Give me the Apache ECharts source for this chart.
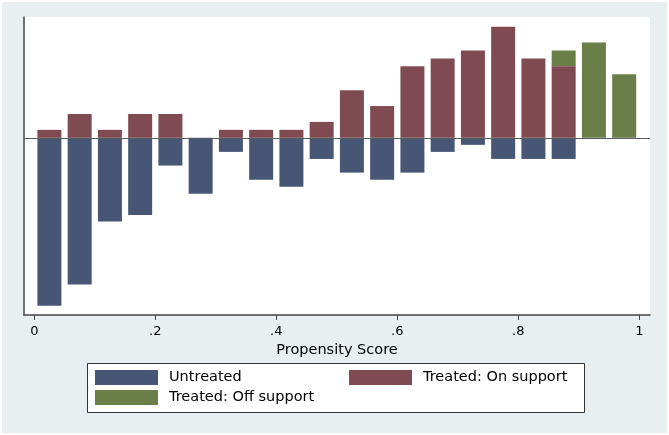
<!DOCTYPE html>
<html>
<head>
<meta charset="utf-8">
<script src="https://cdn.jsdelivr.net/npm/echarts@6/dist/echarts.min.js"></script>
<style>
html,body{margin:0;padding:0;background:#E9EFF1;}
#chart{width:669px;height:435px;}
</style>
</head>
<body>
<div id="chart"></div>
<script>
// Bin centres of the propensity-score histogram (bins of width 0.05)
var binCenters = [0.025, 0.075, 0.125, 0.175, 0.225, 0.275, 0.325, 0.375, 0.425, 0.475,
                  0.525, 0.575, 0.625, 0.675, 0.725, 0.775, 0.825, 0.875, 0.925, 0.975];
// Densities (untreated mirrored below zero)
var untreated = [-3.81, -3.33, -1.90, -1.75, -0.63, -1.27, -0.32, -0.95, -1.11, -0.48,
                 -0.79, -0.95, -0.79, -0.32, -0.16, -0.48, -0.48, -0.48, 0, 0];
var treatedOnSupport = [0.18, 0.54, 0.18, 0.54, 0.54, 0, 0.18, 0.18, 0.18, 0.36,
                        1.08, 0.72, 1.62, 1.80, 1.98, 2.52, 1.80, 1.62, 0, 0];
var treatedOffSupport = [0, 0, 0, 0, 0, 0, 0, 0, 0, 0,
                         0, 0, 0, 0, 0, 0, 0, 0.36, 2.16, 1.44];
var xTickValues = [0, 0.2, 0.4, 0.6, 0.8, 1];
var xTickLabels = ['0', '.2', '.4', '.6', '.8', '1'];
var seriesNames = ['Untreated', 'Treated: On support', 'Treated: Off support'];

function pairs(vals) {
  return binCenters.map(function (c, i) { return [c, vals[i]]; });
}

var colors = ['#475675', '#7F4A52', '#6A7F48'];
var FONT = 'DejaVu Sans';
var BAR_W = 24;

var chart = echarts.init(document.getElementById('chart'), null, {renderer: 'canvas'});
chart.setOption({
  backgroundColor: '#E9EFF1',
  animation: false,
  graphic: [{
    type: 'rect',
    z: 0,
    shape: {x: 1, y: 1, width: 667, height: 433},
    style: {fill: 'none', stroke: '#ffffff', lineWidth: 2}
  }, {
    type: 'rect',
    z: 0,
    shape: {x: 87.5, y: 363.5, width: 497, height: 49},
    style: {fill: '#ffffff', stroke: '#333333', lineWidth: 1}
  }, {
    type: 'rect',
    z: 0,
    shape: {x: 24, y: 17, width: 626, height: 298},
    style: {fill: '#ffffff'}
  }],
  grid: {
    left: 24, right: 19, top: 17, bottom: 120,
    containLabel: false,
    outerBoundsMode: 'none'
  },
  legend: [{
    data: [seriesNames[0], seriesNames[2]],
    orient: 'vertical',
    left: 95, top: 370,
    padding: 0,
    itemWidth: 63, itemHeight: 15, itemGap: 5,
    icon: 'rect',
    selectedMode: false,
    textStyle: {fontFamily: FONT, fontSize: 14.5, color: '#000', lineHeight: 15, padding: [0, 0, 0, 6]}
  }, {
    data: [seriesNames[1]],
    orient: 'vertical',
    left: 349, top: 370,
    padding: 0,
    itemWidth: 63, itemHeight: 15, itemGap: 5,
    icon: 'rect',
    selectedMode: false,
    textStyle: {fontFamily: FONT, fontSize: 14.5, color: '#000', lineHeight: 15, padding: [0, 0, 0, 6]}
  }],
  xAxis: {
    type: 'value',
    min: -0.017,
    max: 1.0177,
    name: 'Propensity Score',
    nameLocation: 'middle',
    nameGap: 25,
    nameTextStyle: {fontFamily: FONT, fontSize: 14.5, color: '#000'},
    axisLine: {show: true, onZero: false, lineStyle: {color: '#444', width: 1.5}},
    axisTick: {show: true, length: 5, inside: false, customValues: xTickValues,
               lineStyle: {color: '#444', width: 1}},
    axisLabel: {
      show: true, margin: 10, customValues: xTickValues,
      fontFamily: FONT, fontSize: 13, color: '#000',
      formatter: function (v) {
        for (var i = 0; i < xTickValues.length; i++) {
          if (Math.abs(xTickValues[i] - v) < 1e-9) return xTickLabels[i];
        }
        return '';
      }
    },
    splitLine: {show: false}
  },
  yAxis: {
    type: 'value',
    min: -4.02,
    max: 2.74,
    axisLine: {show: true, onZero: false, lineStyle: {color: '#444', width: 1.5}},
    axisTick: {show: false},
    axisLabel: {show: false},
    splitLine: {show: false}
  },
  series: [{
    name: seriesNames[0],
    type: 'bar',
    stack: 'ps',
    barWidth: BAR_W,
    itemStyle: {color: colors[0]},
    data: pairs(untreated),
    markLine: {
      silent: true,
      symbol: 'none',
      label: {show: false},
      lineStyle: {color: '#5a5a5a', width: 1, type: 'solid'},
      data: [{yAxis: 0}]
    }
  }, {
    name: seriesNames[1],
    type: 'bar',
    stack: 'ps',
    barWidth: BAR_W,
    itemStyle: {color: colors[1]},
    data: pairs(treatedOnSupport)
  }, {
    name: seriesNames[2],
    type: 'custom',
    itemStyle: {color: colors[2]},
    encode: {x: 0, y: [1, 2]},
    data: binCenters.map(function (c, i) { return [c, treatedOnSupport[i], treatedOffSupport[i]]; }),
    renderItem: function (params, api) {
      var x = api.value(0), base = api.value(1), h = api.value(2);
      if (!h) return null;
      var top = api.coord([x, base + h]);
      var bottom = api.coord([x, base]);
      return {
        type: 'rect',
        shape: {x: top[0] - BAR_W / 2, y: top[1], width: BAR_W, height: bottom[1] - top[1]},
        style: {fill: colors[2]}
      };
    }
  }]
});
</script>
</body>
</html>
